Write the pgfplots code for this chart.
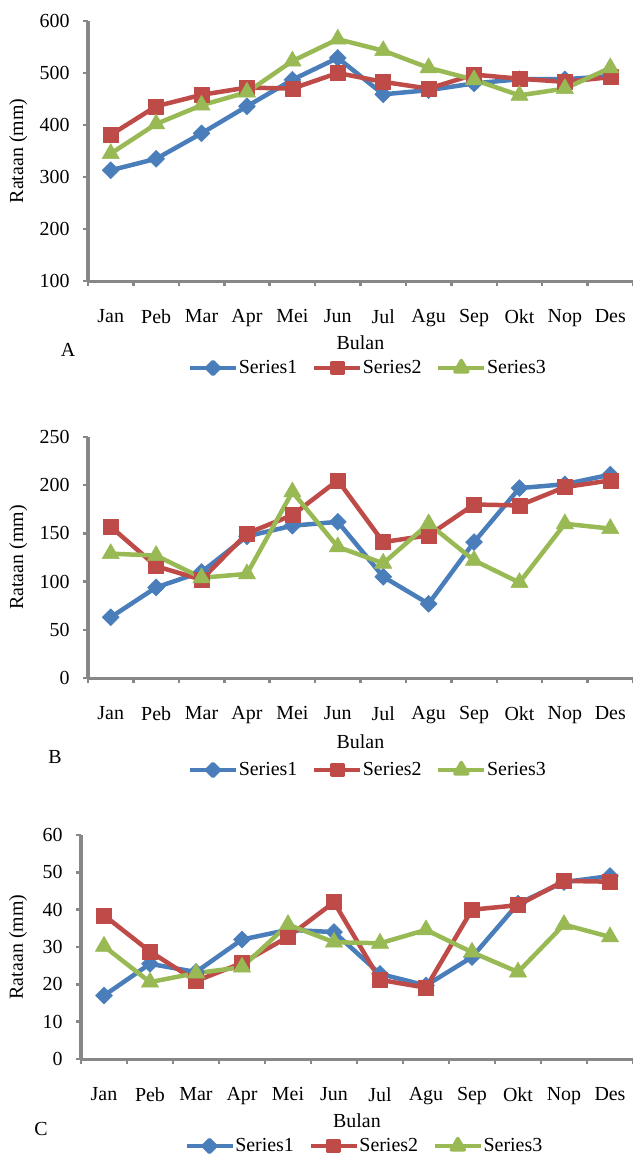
\documentclass[border=0pt]{standalone}
\usepackage{fontspec}
\setmainfont{Liberation Serif}
\usepackage{pgfplots}
\usepackage{pgfplotstable}
\pgfplotsset{compat=1.18}
\definecolor{sblue}{HTML}{4A7EBB}
\definecolor{sred}{HTML}{BE4B48}
\definecolor{sgreen}{HTML}{98B954}
\definecolor{axgray}{HTML}{878787}
\newcommand\fs{\fontsize{20}{24}\selectfont}
\pgfdeclareplotmark{rdiamond}{%
  \pgfpathmoveto{\pgfqpoint{0pt}{\pgfplotmarksize}}%
  \pgfpathlineto{\pgfqpoint{\pgfplotmarksize}{0pt}}%
  \pgfpathlineto{\pgfqpoint{0pt}{-\pgfplotmarksize}}%
  \pgfpathlineto{\pgfqpoint{-\pgfplotmarksize}{0pt}}%
  \pgfpathclose\pgfusepathqfillstroke}

\pgfplotstableread{
x s1 s2 s3
0 313 381 345
1 335 436 402
2 384 458 438
3 436 472 463
4 487 470 523
5 529 500 565
6 459 483 543
7 467 470 510
8 480 497 487
9 488 489 457
10 488 483 470
11 494 492 510
}\dataA
\pgfplotstableread{
x s1 s2 s3
0 63 157 129
1 94 116 127
2 110 102 104
3 147 150 108
4 158 169 193
5 162 205 136
6 105 141 119
7 77 148 160
8 141 180 122
9 197 179 99
10 201 198 160
11 211 205 155
}\dataB
\pgfplotstableread{
x s1 s2 s3
0 17 38.5 30.2
1 25.5 28.8 20.6
2 23.3 20.9 23
3 32 25.7 24.6
4 34.6 32.7 36
5 34 42 31.3
6 22.8 21.2 31
7 19.7 19.1 34.6
8 27.3 40 28.6
9 41.6 41.2 23.3
10 47.4 47.7 36
11 49 47.5 32.7
}\dataC

\pgfplotsset{
  myaxis/.style={
    scale only axis,
    axis lines*=left,
    axis line style={axgray, line width=3bp},
    every tick/.style={axgray, line width=2.5bp},
    tick align=outside,
    major tick length=5bp,
    xmin=-0.5, xmax=11.5,
    xtick={-0.5,0.5,...,11.5},
    x tick label as interval,
    xticklabels={Jan,Peb,Mar,Apr,Mei,Jun,Jul,Agu,Sep,Okt,Nop,Des},
    /pgf/number format/assume math mode=true,
    /pgf/number format/1000 sep={},
    every tick label/.append style={font=\fs, text=black},
    xticklabel style={yshift=-20bp},
    yticklabel style={xshift=-10bp},
    label style={font=\fs},
    xlabel={Bulan},
    ylabel={Rataan (mm)},
    xlabel style={at={(axis description cs:0.5,0)}, anchor=center, yshift=-62bp},
    legend columns=3,
    legend style={draw=none, fill=none, font=\fs, at={(axis description cs:0.5,0)}, anchor=center, yshift=-87bp, xshift=7bp,
      /tikz/every even column/.append style={column sep=14bp},
      nodes={inner sep=1bp}},
    legend image code/.code={\draw[mark repeat=2,mark phase=2,line width=3.5bp,mark options={scale=0.75}] plot coordinates {(0bp,0bp) (23bp,0bp) (46bp,0bp)};},
    line join=round,
  },
  s1/.style={sblue, line width=4.5bp, mark=rdiamond, mark size=8.5bp, mark options={fill=sblue, draw=sblue, line width=0.5bp}},
  s2/.style={sred, line width=4.5bp, mark=square*, mark size=7.5bp, mark options={fill=sred, draw=sred, line width=0.5bp}},
  s3/.style={sgreen, line width=4.5bp, mark=triangle*, mark size=10bp, mark options={fill=sgreen, draw=sgreen, line width=0.5bp}},
}

\begin{document}
\begin{tikzpicture}
\useasboundingbox (0,0) rectangle (633bp,-1156bp);

\begin{axis}[myaxis, at={(88bp,-281bp)}, anchor=south west, width=545bp, height=260bp,
  ymin=100, ymax=600, ytick={100,200,...,600},
  ylabel style={at={(axis description cs:-0.128,0.5)}, anchor=center}]
\addplot[s1] table[x=x,y=s1]{\dataA};
\addplot[s2] table[x=x,y=s2]{\dataA};
\addplot[s3] table[x=x,y=s3]{\dataA};
\legend{Series1,Series2,Series3}
\end{axis}
\node[font=\fs] at (68bp,-350bp) {A};

\begin{axis}[myaxis, at={(88bp,-678bp)}, anchor=south west, width=545bp, height=241bp,
  ymin=0, ymax=250, ytick={0,50,...,250},
  ylabel style={at={(axis description cs:-0.128,0.5)}, anchor=center},
  xlabel style={yshift=-2bp},
  legend style={yshift=-5bp}]
\addplot[s1] table[x=x,y=s1]{\dataB};
\addplot[s2] table[x=x,y=s2]{\dataB};
\addplot[s3] table[x=x,y=s3]{\dataB};
\legend{Series1,Series2,Series3}
\end{axis}
\node[font=\fs] at (55bp,-757bp) {B};

\begin{axis}[myaxis, at={(81bp,-1059bp)}, anchor=south west, width=552bp, height=224bp,
  ymin=0, ymax=60, ytick={0,10,...,60},
  ylabel style={at={(axis description cs:-0.114,0.5)}, anchor=center}]
\addplot[s1] table[x=x,y=s1]{\dataC};
\addplot[s2] table[x=x,y=s2]{\dataC};
\addplot[s3] table[x=x,y=s3]{\dataC};
\legend{Series1,Series2,Series3}
\end{axis}
\node[font=\fs] at (41bp,-1129bp) {C};
\end{tikzpicture}
\end{document}
